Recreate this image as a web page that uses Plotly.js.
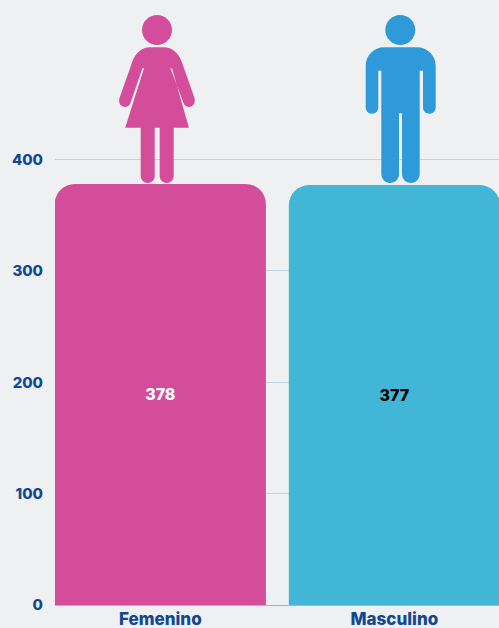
<!DOCTYPE html>
<html><head><meta charset="utf-8">
<script src="https://cdn.plot.ly/plotly-3.0.1.min.js"></script>
<style>html,body{margin:0;padding:0;background:#eff0f2}#c{width:499px;height:628px}</style>
</head><body><div id="c"></div>
<script>
const categories = ['Femenino', 'Masculino'];
const values = [378, 377];
const barColors = ['#d44d9b', '#41b6d6'];
const labelColors = ['#ffffff', '#000000'];
const tickValues = [0, 100, 200, 300, 400];
const W = 499, H = 628, L = 55, B = 23;
const F = 'Inter, "Open Sans", sans-serif';
const navy = '#12488f';

function px(d) {
  return d.replace(/(-?[\d.]+),(-?[\d.]+)/g, (m, x, y) =>
    (((+x) - L) / (W - L)).toFixed(5) + ',' + ((H - B - (+y)) / (H - B)).toFixed(5));
}
function circlePath(cx, cy, r) {
  const k = r * 0.5523;
  return `M${cx - r},${cy} C${cx - r},${cy - k} ${cx - k},${cy - r} ${cx},${cy - r} ` +
    `C${cx + k},${cy - r} ${cx + r},${cy - k} ${cx + r},${cy} ` +
    `C${cx + r},${cy + k} ${cx + k},${cy + r} ${cx},${cy + r} ` +
    `C${cx - k},${cy + r} ${cx - r},${cy + k} ${cx - r},${cy} Z`;
}
function iconShape(d, color) {
  return {type: 'path', xref: 'paper', yref: 'paper', path: px(d), fillcolor: color, line: {width: 0}, layer: 'above'};
}
const woman = [
  circlePath(157, 30, 15),
  'M150,47.3 L164,47.3 C172,47.3 178.5,53 181.7,61.7 L194.5,98 C196,103 192.5,107 189,107 C186.5,107 184.5,105.5 183.5,103 L170.5,68.3 L172,68.3 L188.9,127.7 L125.2,127.7 L144,68.3 L142.4,68.3 L130.5,103 C129.5,105.5 127.5,107 125,107 C121,107 118,103 119.5,98 L132.3,61.7 C135.5,53 142,47.3 150,47.3 Z',
  'M140.7,125 L154.7,125 L154.7,176 C154.7,180 151.5,183 147.7,183 C143.9,183 140.7,180 140.7,176 Z',
  'M159.7,125 L173.7,125 L173.7,176 C173.7,180 170.5,183 166.7,183 C162.9,183 159.7,180 159.7,176 Z'
];
const man = [
  circlePath(400.3, 30, 15),
  'M384,47.3 L417,47.3 C427.5,47.3 435.7,55.5 435.7,66 L435.7,107.5 C435.7,111 432.8,113.7 429.4,113.7 C426,113.7 423,111 423,107.5 L423,70.7 L419.7,70.7 L419.7,174 C419.7,179 415.7,183 411,183 C406,183 402,179 402,174 L402,113.3 L399,113.3 L399,174 C399,179 395,183 390,183 C385.3,183 381.3,179 381.3,174 L381.3,70.7 L378.3,70.7 L378.3,107.5 C378.3,111 375.3,113.7 372,113.7 C368.6,113.7 365.7,111 365.7,107.5 L365.7,66 C365.7,55.5 373.8,47.3 384,47.3 Z'
];
const shapes = woman.map(d => iconShape(d, '#d44d9b')).concat(man.map(d => iconShape(d, '#2f9ad9')));

Plotly.newPlot('c', [{
  type: 'bar',
  x: categories,
  y: values,
  width: 0.902,
  text: values.map(String),
  textposition: 'inside',
  insidetextanchor: 'middle',
  textangle: 0,
  cliponaxis: false,
  constraintext: 'none',
  insidetextfont: {family: F, size: 16, color: labelColors, weight: 800},
  marker: {color: barColors, cornerradius: 20, line: {width: 0}},
  hoverinfo: 'skip'
}], {
  width: W, height: H,
  margin: {l: L, r: 0, t: 0, b: B, pad: 0},
  paper_bgcolor: '#eff0f2',
  plot_bgcolor: '#eff0f2',
  showlegend: false,
  bargap: 0.1,
  shapes: shapes,
  xaxis: {
    type: 'category', range: [-0.45, 1.447], autorange: false, fixedrange: true,
    showgrid: false, zeroline: false, showline: true, linecolor: '#9fb6d6', linewidth: 1,
    ticks: '', ticklabelstandoff: -1,
    tickfont: {family: F, size: 17, color: navy, weight: 800}
  },
  yaxis: {
    range: [0, 543.2], autorange: false, fixedrange: true,
    tickmode: 'array', tickvals: tickValues, ticktext: tickValues.map(String),
    showgrid: true, gridcolor: '#c5d0df', gridwidth: 1, zeroline: false, showline: false,
    ticks: '', ticklabelstandoff: 11,
    tickfont: {family: F, size: 15, color: navy, weight: 800}
  }
}, {displayModeBar: false, staticPlot: true});
</script></body></html>
